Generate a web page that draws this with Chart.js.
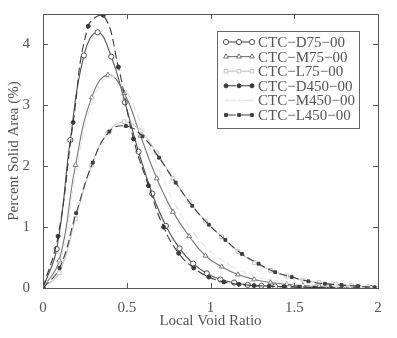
<!DOCTYPE html>
<html>
<head>
<meta charset="utf-8">
<script src="https://cdn.jsdelivr.net/npm/chart.js@4"></script>
<style>
  body { margin: 0; background: #fff; }
  canvas { display: block; }
</style>
</head>
<body>
<canvas id="chart" width="397" height="338"></canvas>
<script>
// Percent solid area vs local void ratio, one curve per specimen
const names = ['CTC−D75−00', 'CTC−M75−00', 'CTC−L75−00', 'CTC−D450−00', 'CTC−M450−00', 'CTC−L450−00'];

// spacing of the sampled points along the void ratio axis
const steps = [0.0815, 0.097, 0.097, 0.09, 0.1, 0.099];

const d75 = [0, 0.64, 2.43, 3.82, 4.20, 3.80, 3.05, 2.24, 1.55, 1.02, 0.65, 0.40, 0.24, 0.14, 0.09, 0.05, 0.035, 0.025, 0.02, 0.015, 0.01, 0.01, 0.005, 0.005, 0];
const m75 = [0, 0.45, 2.02, 3.13, 3.50, 3.20, 2.50, 1.80, 1.25, 0.85, 0.53, 0.35, 0.22, 0.14, 0.09, 0.06, 0.04, 0.03, 0.02, 0.015, 0.01];
const l75 = [0, 0.25, 1.14, 2.02, 2.55, 2.73, 2.58, 2.22, 1.80, 1.42, 1.10, 0.84, 0.60, 0.42, 0.29, 0.20, 0.13, 0.09, 0.06, 0.04, 0.02];
const d450 = [0, 0.85, 2.72, 4.30, 4.48, 3.63, 2.45, 1.68, 1.00, 0.57, 0.33, 0.18, 0.10, 0.06, 0.04, 0.03, 0.02, 0.015, 0.01, 0.01, 0.005, 0.005, 0];
const m450 = [0, 0.40, 1.95, 3.10, 3.48, 3.22, 2.58, 1.90, 1.32, 0.90, 0.60, 0.40, 0.26, 0.17, 0.11, 0.07, 0.05, 0.03, 0.02, 0.015, 0.01];
const l450 = [0, 0.33, 1.23, 2.06, 2.57, 2.66, 2.49, 2.14, 1.73, 1.35, 1.04, 0.79, 0.56, 0.40, 0.26, 0.18, 0.11, 0.07, 0.05, 0.03, 0.01];

const series = [d75, m75, l75, d450, m450, l450];

const xTicks = [0, 0.5, 1, 1.5, 2];
const yTicks = [0, 1, 2, 3, 4];

// line / marker look for each curve
const styles = [
  { color: '#505050', fill: '#fff', point: 'circle', radius: 2.6, dash: [] },
  { color: '#777', fill: '#fff', point: 'triangle', radius: 2.8, dash: [] },
  { color: '#c4c4c4', fill: '#fff', point: 'rect', radius: 2.6, dash: [] },
  { color: '#3a3a3a', fill: '#3a3a3a', point: 'circle', radius: 2, dash: [8, 4] },
  { color: '#e6e6e6', fill: '#e6e6e6', point: 'crossRot', radius: 2, dash: [8, 4] },
  { color: '#404040', fill: '#404040', point: 'rect', radius: 2, dash: [8, 4] }
];

const FONT = 'Liberation Serif, Times New Roman, serif';
const TEXT = '#555';

const datasets = series.map((vals, i) => ({
  label: names[i],
  data: vals.map((v, k) => ({ x: k * steps[i], y: v })),
  borderColor: styles[i].color,
  backgroundColor: styles[i].fill,
  borderWidth: 1.1,
  borderDash: styles[i].dash,
  pointStyle: styles[i].point,
  pointRadius: styles[i].radius,
  pointBorderColor: styles[i].color,
  pointBackgroundColor: styles[i].fill,
  pointBorderWidth: 1,
  tension: 0.45,
  order: 6 - i
}));

// box around the plot with inward ticks on all four sides
const frame = {
  id: 'frame',
  afterDatasetsDraw(chart) {
    const { ctx, chartArea: a, scales: { x, y } } = chart;
    ctx.save();
    ctx.strokeStyle = '#555';
    ctx.lineWidth = 1;
    ctx.strokeRect(a.left + 0.5, a.top + 0.5, a.right - a.left, a.bottom - a.top);
    ctx.beginPath();
    xTicks.forEach(v => {
      const p = Math.round(x.getPixelForValue(v)) + 0.5;
      ctx.moveTo(p, a.bottom); ctx.lineTo(p, a.bottom - 5);
      ctx.moveTo(p, a.top); ctx.lineTo(p, a.top + 5);
    });
    yTicks.forEach(v => {
      const p = Math.round(y.getPixelForValue(v)) + 0.5;
      ctx.moveTo(a.left, p); ctx.lineTo(a.left + 5, p);
      ctx.moveTo(a.right, p); ctx.lineTo(a.right - 5, p);
    });
    ctx.stroke();
    ctx.restore();
  }
};

// legend box in the upper right of the plot
const boxLegend = {
  id: 'boxLegend',
  afterDraw(chart) {
    const { ctx, chartArea: a } = chart;
    const left = a.right - 161, top = a.top + 17, w = 142, h = 97;
    ctx.save();
    ctx.fillStyle = '#fff';
    ctx.fillRect(left, top, w, h);
    ctx.strokeStyle = '#666';
    ctx.lineWidth = 1;
    ctx.strokeRect(left + 0.5, top + 0.5, w, h);
    ctx.font = '15px ' + FONT;
    ctx.textBaseline = 'middle';
    chart.data.datasets.forEach((ds, i) => {
      const cy = top + 11 + i * 14.6;
      const x0 = left + 9;
      ctx.strokeStyle = ds.borderColor;
      ctx.lineWidth = 1.1;
      ctx.setLineDash(ds.borderDash.length ? [10, 5] : []);
      ctx.beginPath();
      ctx.moveTo(x0, cy); ctx.lineTo(x0 + 26, cy);
      ctx.stroke();
      ctx.setLineDash([]);
      [0, 13, 26].forEach(dx => {
        ctx.fillStyle = ds.pointBackgroundColor;
        ctx.strokeStyle = ds.pointBorderColor;
        ctx.lineWidth = 1;
        Chart.helpers.drawPoint(ctx, { pointStyle: ds.pointStyle, radius: ds.pointRadius, rotation: 0, borderWidth: 1 }, x0 + dx, cy);
      });
      ctx.fillStyle = TEXT;
      ctx.fillText(ds.label, left + 41, cy + 1);
    });
    ctx.restore();
  }
};

new Chart(document.getElementById('chart'), {
  type: 'line',
  data: { datasets },
  options: {
    responsive: false,
    animation: false,
    layout: { padding: { top: 8, right: 19, left: 0, bottom: 0 } },
    plugins: { legend: { display: false }, tooltip: { enabled: false } },
    scales: {
      x: {
        type: 'linear',
        min: 0,
        max: 2,
        afterFit: s => { s.height = 50; },
        afterBuildTicks: s => { s.ticks = xTicks.map(v => ({ value: v })); },
        grid: { display: false },
        border: { display: false },
        ticks: { color: TEXT, font: { family: FONT, size: 15 }, padding: 3, maxRotation: 0, callback: v => String(v) },
        title: { display: true, text: 'Local Void Ratio', color: TEXT, font: { family: FONT, size: 15 }, padding: { bottom: 8 } }
      },
      y: {
        min: 0,
        max: 4.5,
        afterFit: s => { s.width = 43; },
        afterBuildTicks: s => { s.ticks = yTicks.map(v => ({ value: v })); },
        grid: { display: false },
        border: { display: false },
        ticks: { color: TEXT, font: { family: FONT, size: 15 }, padding: 5, callback: v => String(v) },
        title: { display: true, text: 'Percent Solid Area (%)', color: TEXT, font: { family: FONT, size: 15 }, padding: { top: 5 } }
      }
    }
  },
  plugins: [frame, boxLegend]
});
</script>
</body>
</html>
